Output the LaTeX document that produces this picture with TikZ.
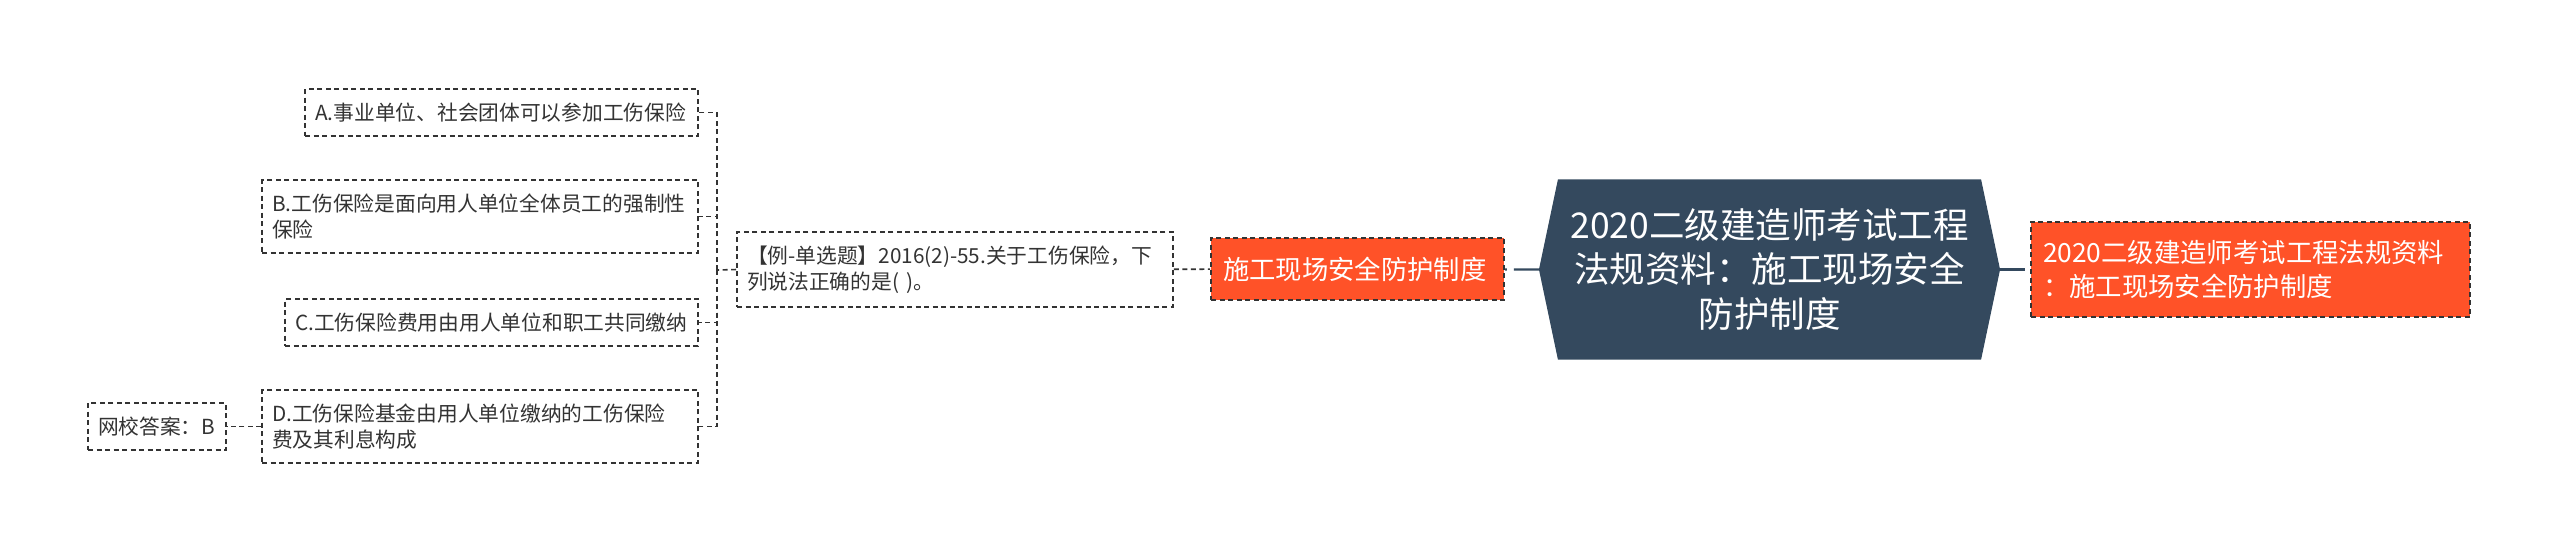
\documentclass[tikz,border=0pt]{standalone}
\usepackage{fontspec}
\newfontfamily\cjk{Noto Sans CJK SC}
\usepackage{tikz}
\usetikzlibrary{positioning,calc,backgrounds}
\usepackage{xcolor}
\definecolor{hubfill}{RGB}{52,73,94}
\definecolor{hotfill}{RGB}{255,82,40}
\definecolor{ink}{RGB}{51,51,51}

\tikzset{
  leaf/.style={draw=ink,dash pattern=on 0.05cm off 0.035cm,line width=0.45pt,fill=white,text=ink,
    inner xsep=0.1cm,inner ysep=0pt,align=left,font=\cjk\fontsize{5.9}{7.4}\selectfont},
  hot/.style={draw=ink,dash pattern=on 0.05cm off 0.035cm,line width=0.45pt,fill=hotfill,text=white,
    inner xsep=0.12cm,inner ysep=0pt,align=left,font=\cjk\fontsize{7.5}{9.7}\selectfont},
  link/.style={draw=ink,dash pattern=on 0.05cm off 0.035cm,line width=0.45pt},
  spine/.style={draw=hubfill,line width=0.65pt,dash pattern=on 0.25cm off 0.07cm}
}

\begin{document}
\begin{tikzpicture}
    \useasboundingbox (0,0) rectangle (25.6,-5.53);

    \node[text=white,align=center,minimum width=4.17cm,minimum height=1.79cm,
          font=\cjk\fontsize{10.1}{12.7}\selectfont] (hub) at (17.695,-2.695)
          {2020二级建造师考试工程\\法规资料：施工现场安全\\防护制度};
    \coordinate (hubW) at ($(hub.west)+(-0.19,0)$);
    \coordinate (hubE) at ($(hub.east)+(0.19,0)$);
    \begin{scope}[on background layer]
        \fill[hubfill] (hub.north west) -- (hub.north east) -- (hubE) -- (hub.south east)
            -- (hub.south west) -- (hubW) -- cycle;
    \end{scope}

    \node[hot,text width=4.15cm,minimum height=0.95cm] (side) at (22.505,-2.695)
          {2020二级建造师考试工程法规资料\\：施工现场安全防护制度};
    \node[hot,text width=2.69cm,minimum height=0.62cm] (branch) at (13.575,-2.69) {施工现场安全防护制度};

    \node[leaf,text width=4.16cm,minimum height=0.75cm] (quiz) at (9.55,-2.695)
          {【例-单选题】2016(2)-55.关于工伤保险，下\\列说法正确的是( )。};

    \node[leaf,anchor=east,text width=3.73cm,minimum height=0.47cm] (optA) at (6.99,-1.125) {A.事业单位、社会团体可以参加工伤保险};
    \node[leaf,anchor=east,text width=4.16cm,minimum height=0.73cm] (optB) at (6.99,-2.165) {B.工伤保险是面向用人单位全体员工的强制性\\保险};
    \node[leaf,anchor=east,text width=3.93cm,minimum height=0.47cm] (optC) at (6.99,-3.225) {C.工伤保险费用由用人单位和职工共同缴纳};
    \node[leaf,anchor=east,text width=4.16cm,minimum height=0.73cm] (optD) at (6.99,-4.265) {D.工伤保险基金由用人单位缴纳的工伤保险\\费及其利息构成};

    \node[leaf,text width=1.18cm,minimum height=0.47cm] (answer) at (1.57,-4.265) {网校答案：B};

    \draw[spine] (hubW) -- (branch);
    \draw[spine] (hubE) -- (side);
    \draw[link] (quiz) -- (branch);

    \coordinate (fork) at (7.17,-2.70);
    \draw[link] (quiz.west) -- (fork);
    \foreach \opt in {optA,optB,optC,optD}
        \draw[link] (fork) |- (\opt.east);
    \draw[link] (optD) -- (answer);
\end{tikzpicture}
\end{document}
